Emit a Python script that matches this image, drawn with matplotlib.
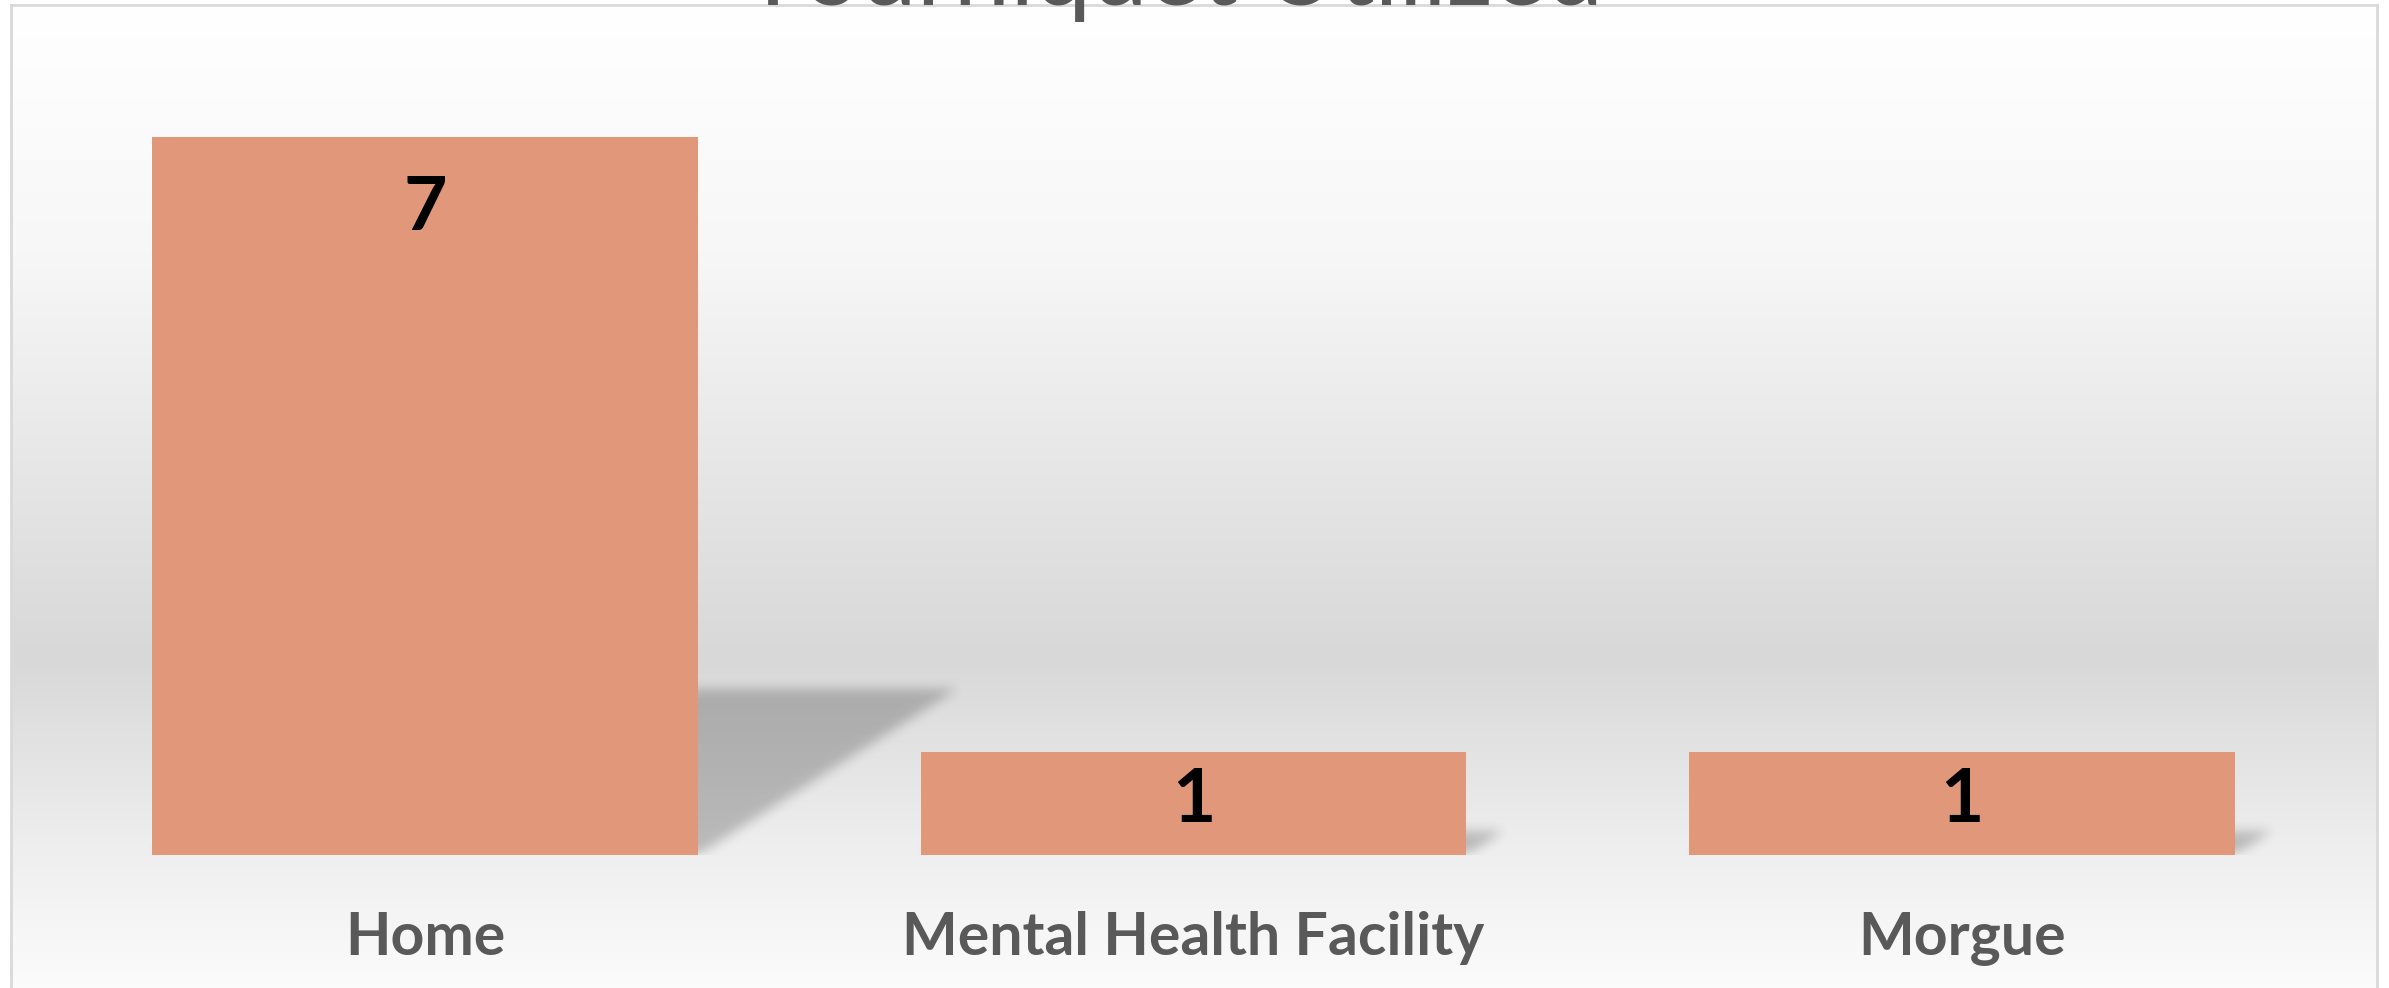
import numpy as np
import matplotlib
matplotlib.use("Agg")
import matplotlib.pyplot as plt
from matplotlib.colors import LinearSegmentedColormap

# ---- data ----
categories = ["Home", "Mental Health Facility", "Morgue"]
values = [7, 1, 1]
title = "Tourniquet Utilized"

W, H = 2389, 988
DPI = 100
fig = plt.figure(figsize=(W / DPI, H / DPI), dpi=DPI)
fig.patch.set_facecolor("white")

def fx(px):
    return px / W

def fy(py):
    return 1 - py / H

# chart area with gradient background
bg_left, bg_top, bg_right, bg_bottom = 11, 5, 2377, 995
bgax = fig.add_axes([fx(bg_left), fy(bg_bottom), fx(bg_right - bg_left), (bg_bottom - bg_top) / H], zorder=0)
cmap = LinearSegmentedColormap.from_list(
    "bg", [(0.0, "#ffffff"), (0.25, "#f7f7f7"), (0.66, "#d8d8d8"), (0.85, "#eeeeee"), (1.0, "#fcfcfc")])
grad = np.linspace(0, 1, 512).reshape(-1, 1)
bgax.imshow(grad, aspect="auto", cmap=cmap, extent=[0, 1, 1, 0], interpolation="bicubic")
bgax.set_xlim(0, 1)
bgax.set_ylim(1, 0)
bgax.set_xticks([])
bgax.set_yticks([])
for s in bgax.spines.values():
    s.set_edgecolor("#d9d9d9")
    s.set_linewidth(2.0)

# main axes
px_per_unit = 102.6
ax_bottom_px = 855
ymax = 8
ax_height_px = ymax * px_per_unit
ax_left_px, ax_right_px = 41, 2346
ax = fig.add_axes([fx(ax_left_px), fy(ax_bottom_px), fx(ax_right_px - ax_left_px), ax_height_px / H], zorder=1)
ax.patch.set_alpha(0)
xmin, xmax = -0.5, len(categories) - 0.5
ax.set_xlim(xmin, xmax)
ax.set_ylim(0, ymax)
ax.axis("off")

bar_color = "#E1977A"
width = 0.71
x = np.arange(len(categories))

# blurred perspective shadows (raster)
sdx, sdy = 0.0481, 0.231
nx, ny = int(ax_right_px - ax_left_px), int(ax_height_px)
xs = xmin + (np.arange(nx) + 0.5) / nx * (xmax - xmin)
ys = (np.arange(ny) + 0.5) / ny * ymax
XX, YY = np.meshgrid(xs, ys)
mask = np.zeros((ny, nx))
for xi, v in zip(x, values):
    L, R = xi - width / 2, xi + width / 2
    t = YY / (sdy * v)
    inside = (t >= 0) & (t <= 1) & (XX >= L + sdx * v * t) & (XX <= R + sdx * v * t)
    mask[inside] = 1.0

def box_blur(a, r, axis):
    pad = [(0, 0), (0, 0)]
    pad[axis] = (r + 1, r)
    c = np.cumsum(np.pad(a, pad, mode="constant"), axis=axis)
    n = a.shape[axis]
    hi = np.take(c, np.arange(2 * r + 1, 2 * r + 1 + n), axis=axis)
    lo = np.take(c, np.arange(0, n), axis=axis)
    return (hi - lo) / (2 * r + 1)

for _ in range(3):
    mask = box_blur(mask, 5, 0)
    mask = box_blur(mask, 5, 1)

rgba = np.zeros((ny, nx, 4))
rgba[..., 3] = mask * 0.22
ax.imshow(rgba, extent=[xmin, xmax, 0, ymax], origin="lower", aspect="auto",
          interpolation="bilinear", zorder=1)
ax.set_xlim(xmin, xmax)
ax.set_ylim(0, ymax)

bars = ax.bar(x, values, width=width, color=bar_color, edgecolor="none", zorder=3)

for xi, v in zip(x, values):
    bar_px = v * px_per_unit
    off_px = min(93, 0.68 * bar_px)
    ax.annotate(str(v), xy=(xi, v), xytext=(0, -off_px * 72 / DPI), textcoords="offset points",
                ha="center", va="baseline", fontsize=54, fontweight="bold",
                family="Lato", color="black", zorder=4)

for xi, c in zip(x, categories):
    ax.annotate(c, xy=(xi, 0), xycoords=("data", "data"), xytext=(0, -100 * 72 / DPI),
                textcoords="offset points", ha="center", va="baseline",
                fontsize=42.5, fontweight="bold", family="Lato", color="#595959",
                annotation_clip=False)

fig.text(0.491, fy(5), title, ha="center", va="baseline", fontsize=73,
         family="Lato", color="#595959", zorder=5)

fig.savefig("out.png", dpi=DPI)
